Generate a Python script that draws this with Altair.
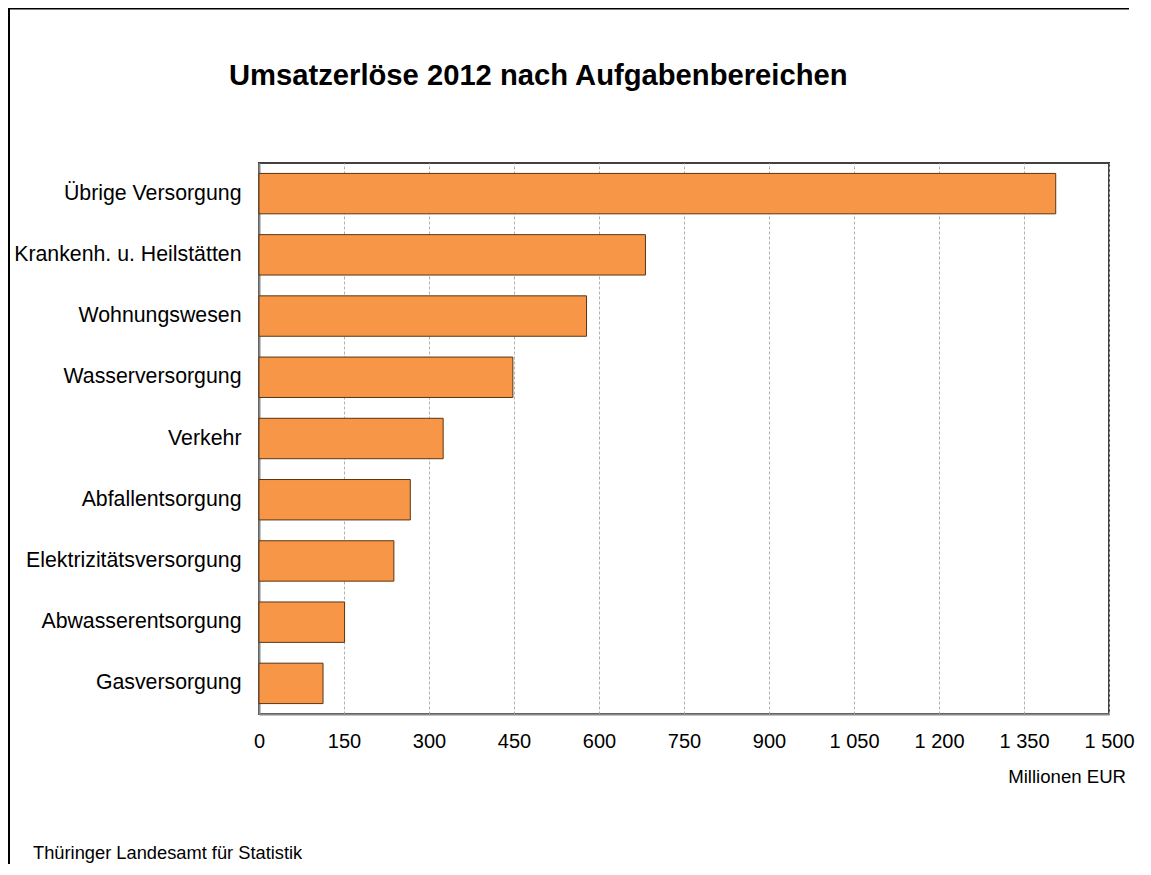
import altair as alt
import pandas as pd

categories = ["Übrige Versorgung", "Krankenh. u. Heilstätten", "Wohnungswesen",
              "Wasserversorgung", "Verkehr", "Abfallentsorgung",
              "Elektrizitätsversorgung", "Abwasserentsorgung", "Gasversorgung"]
values = [1406, 682, 578, 448, 325, 267, 238, 151, 113]
x_ticks = [0, 150, 300, 450, 600, 750, 900, 1050, 1200, 1350, 1500]

title_text = "Umsatzerlöse 2012 nach Aufgabenbereichen"
unit_text = "Millionen EUR"
source_text = "Thüringer Landesamt für Statistik"

FONT = "Liberation Sans"
W, H = 850, 551
PAD = {"left": 251, "top": 155, "right": 30, "bottom": 150}

df = pd.DataFrame({"Bereich": categories, "Wert": values})

bars = alt.Chart(df).mark_bar(
    color="#F79646", stroke="#5a3512", strokeWidth=1
).encode(
    y=alt.Y("Bereich:N", sort=categories,
            scale=alt.Scale(paddingInner=0.34, paddingOuter=0.17),
            axis=alt.Axis(title=None, ticks=False, labelFont=FONT, labelFontSize=21.3,
                          labelColor="#000", labelPadding=18, domainColor="#888",
                          domainWidth=2, labelLimit=400, grid=False)),
    x=alt.X("Wert:Q", scale=alt.Scale(domain=[0, 1500], nice=False),
            axis=alt.Axis(title=None, values=x_ticks, ticks=False, labelFont=FONT,
                          labelFontSize=20, labelColor="#000", labelPadding=17,
                          domainColor="#888", domainWidth=2, grid=True,
                          gridColor="#b0b0b0", gridDash=[3, 2], gridWidth=1,
                          labelExpr="replace(format(datum.value, ','), ',', ' ')",
                          labelFlush=False)),
)

one = pd.DataFrame({"a": [0]})
frame_top = alt.Chart(one).mark_rule(color="#000", strokeWidth=2).encode(
    x=alt.value(-PAD["left"]), x2=alt.value(W + PAD["right"] - 10), y=alt.value(-PAD["top"] + 0.5)
)
frame_left = alt.Chart(one).mark_rule(color="#000", strokeWidth=2).encode(
    x=alt.value(-PAD["left"] + 1), y=alt.value(-PAD["top"]), y2=alt.value(H + PAD["bottom"])
)

title = alt.Chart(pd.DataFrame({"t": [title_text]})).mark_text(
    font=FONT, fontSize=29.2, fontWeight="bold", align="left", baseline="alphabetic", color="#000"
).encode(text="t:N", x=alt.value(-30), y=alt.value(-78))

unit = alt.Chart(pd.DataFrame({"t": [unit_text]})).mark_text(
    font=FONT, fontSize=18.6, align="right", baseline="middle", color="#000"
).encode(text="t:N", x=alt.value(867), y=alt.value(614))

source = alt.Chart(pd.DataFrame({"t": [source_text]})).mark_text(
    font=FONT, fontSize=18.3, align="left", baseline="middle", color="#000"
).encode(text="t:N", x=alt.value(-226), y=alt.value(691))

chart = alt.layer(bars, frame_top, frame_left, title, unit, source).properties(
    width=W, height=H, autosize="none", padding=PAD,
).configure_view(stroke="#404040", strokeWidth=2)

chart.save("out.html", embed_options={"renderer": "svg", "actions": False})
